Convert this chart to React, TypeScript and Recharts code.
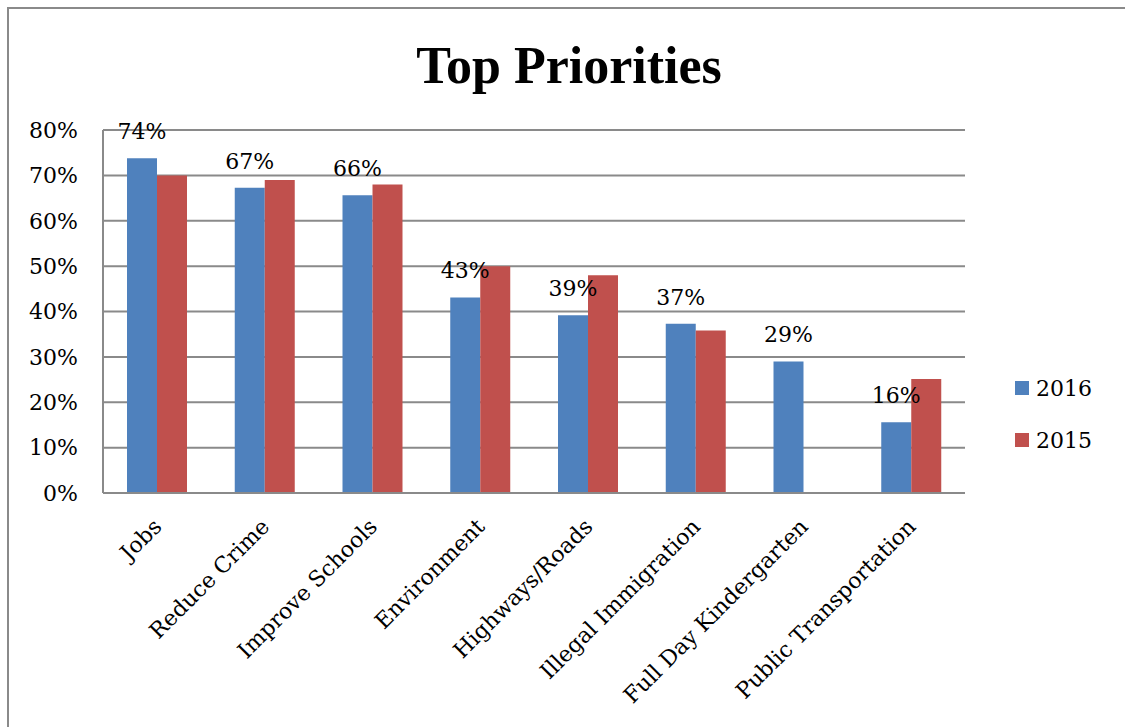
import React from 'react'
import { Bar, BarChart, CartesianGrid, LabelList, XAxis, YAxis } from 'recharts'

const categories = [
  'Jobs',
  'Reduce Crime',
  'Improve Schools',
  'Environment',
  'Highways/Roads',
  'Illegal Immigration',
  'Full Day Kindergarten',
  'Public Transportation',
]
const values2016 = [73.8, 67.3, 65.6, 43.1, 39.2, 37.3, 29, 15.6]
const values2015: (number | null)[] = [70, 69, 68, 50, 48, 35.8, null, 25.1]
const yTicks = [0, 10, 20, 30, 40, 50, 60, 70, 80]

const series = [
  { key: 'y2016', name: '2016', color: '#4f81bd' },
  { key: 'y2015', name: '2015', color: '#c0504d' },
]

const data = categories.map((c, i) => ({ name: c, y2016: values2016[i], y2015: values2015[i] }))

const FONT = 'DejaVu Serif'
const GRID = '#8a8a8a'

const CategoryTick = ({ x, y, payload }: any) => {
  const px = x + 6
  const py = y + 35
  return (
    <text
      x={px}
      y={py}
      textAnchor="end"
      transform={`rotate(-45, ${px}, ${py})`}
      fontFamily={FONT}
      fontSize={22}
      fill="#000"
    >
      {payload.value}
    </text>
  )
}

const App = () => {
  return (
    <div style={{ position: 'absolute', left: 0, top: 0, width: 1125, height: 727, overflow: 'hidden', background: '#fff' }}>
      <div
        style={{
          position: 'absolute',
          left: 7,
          top: 7,
          width: 1125,
          height: 727,
          borderTop: '2px solid #8a8a8a',
          borderLeft: '2px solid #8a8a8a',
        }}
      />
      <div
        style={{
          position: 'absolute',
          left: 0,
          top: 40,
          width: 1138,
          textAlign: 'center',
          fontFamily: 'Liberation Serif',
          fontWeight: 'bold',
          fontSize: 52,
          lineHeight: '52px',
          color: '#000',
        }}
      >
        Top Priorities
      </div>
      <div style={{ position: 'absolute', left: 0, top: 0 }}>
        <BarChart
          width={1125}
          height={727}
          data={data}
          margin={{ top: 130, right: 160, left: 0, bottom: 0 }}
          barCategoryGap={24}
          barGap={0}
        >
          <CartesianGrid vertical={false} stroke={GRID} strokeWidth={2} />
          <XAxis
            dataKey="name"
            height={234}
            interval={0}
            tickLine={false}
            tickSize={0}
            tickMargin={0}
            axisLine={{ stroke: GRID, strokeWidth: 2 }}
            tick={<CategoryTick />}
          />
          <YAxis
            width={103}
            domain={[0, 80]}
            ticks={yTicks}
            interval={0}
            tickLine={false}
            tickSize={0}
            tickMargin={25}
            axisLine={{ stroke: GRID, strokeWidth: 2 }}
            tickFormatter={(v: number) => `${v}%`}
            tick={{ fontFamily: FONT, fontSize: 22, fill: '#000' }}
          />
          {series.map((s) => (
            <Bar key={s.key} dataKey={s.key} name={s.name} fill={s.color} isAnimationActive={false}>
              {s.key === 'y2016' && (
                <LabelList
                  dataKey={s.key}
                  position="top"
                  offset={19}
                  formatter={(v: any) => `${Math.round(Number(v))}%`}
                  style={{ fontFamily: FONT, fontSize: 22, fill: '#000' }}
                />
              )}
            </Bar>
          ))}
        </BarChart>
      </div>
      {series.map((s, i) => (
        <div
          key={s.key}
          style={{
            position: 'absolute',
            left: 1015,
            top: 374 + i * 52,
            display: 'flex',
            alignItems: 'center',
            fontFamily: FONT,
            fontSize: 22,
            color: '#000',
            height: 28,
          }}
        >
          <span style={{ display: 'inline-block', width: 14, height: 14, background: s.color, marginRight: 7 }} />
          {s.name}
        </div>
      ))}
    </div>
  )
}

export default App
